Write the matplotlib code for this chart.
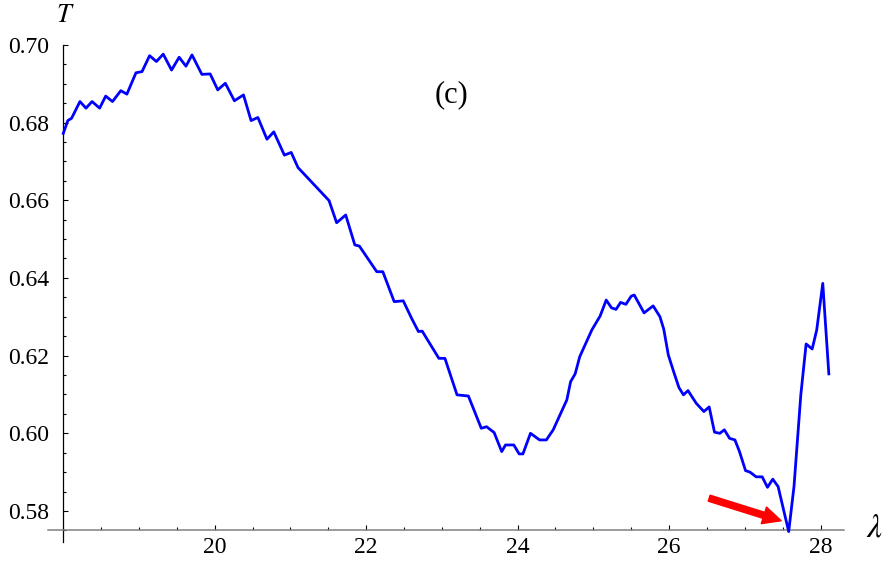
import matplotlib
matplotlib.use("Agg")
import matplotlib.pyplot as plt
from matplotlib.ticker import MultipleLocator, FormatStrFormatter

plt.rcParams['mathtext.fontset'] = 'stix'

# wavelength lambda
lam = [18.00, 18.06, 18.11, 18.22, 18.30, 18.38, 18.48, 18.56, 18.65, 18.76,
       18.84, 18.96, 19.04, 19.14, 19.23, 19.32, 19.43, 19.53, 19.62, 19.70,
       19.83, 19.94, 20.04, 20.14, 20.26, 20.38, 20.48, 20.57, 20.69, 20.78,
       20.92, 21.01, 21.10, 21.51, 21.61, 21.73, 21.85, 21.91, 22.14, 22.22,
       22.37, 22.49, 22.60, 22.69, 22.74, 22.96, 23.04, 23.20, 23.35, 23.52,
       23.59, 23.69, 23.79, 23.84, 23.95, 24.02, 24.07, 24.17, 24.29, 24.38,
       24.47, 24.65, 24.70, 24.76, 24.82, 24.98, 25.09, 25.17, 25.24, 25.30,
       25.36, 25.43, 25.50, 25.54, 25.67, 25.79, 25.88, 25.93, 25.99, 26.06,
       26.13, 26.19, 26.25, 26.36, 26.46, 26.53, 26.60, 26.67, 26.73, 26.80,
       26.87, 26.93, 27.01, 27.07, 27.15, 27.23, 27.30, 27.37, 27.44, 27.58,
       27.65, 27.74, 27.81, 27.89, 27.95, 28.03, 28.11]

# transmission T
T = [0.6772, 0.6805, 0.6811, 0.6854, 0.6837, 0.6854, 0.6837, 0.6868, 0.6854, 0.6882,
     0.6873, 0.6928, 0.6931, 0.6972, 0.6957, 0.6976, 0.6935, 0.6968, 0.6945, 0.6974,
     0.6924, 0.6925, 0.6884, 0.6901, 0.6856, 0.6871, 0.6805, 0.6813, 0.6757, 0.6776,
     0.6716, 0.6723, 0.6684, 0.6599, 0.6542, 0.6562, 0.6485, 0.6482, 0.6416, 0.6416,
     0.6339, 0.6341, 0.6296, 0.6262, 0.6263, 0.6193, 0.6193, 0.6099, 0.6096, 0.6013,
     0.6017, 0.6002, 0.5953, 0.5970, 0.5970, 0.5947, 0.5947, 0.6000, 0.5983, 0.5983,
     0.6009, 0.6086, 0.6133, 0.6153, 0.6197, 0.6266, 0.6302, 0.6343, 0.6323, 0.6319,
     0.6337, 0.6332, 0.6353, 0.6356, 0.6310, 0.6328, 0.6300, 0.6268, 0.6202, 0.6159,
     0.6118, 0.6099, 0.6110, 0.6077, 0.6056, 0.6068, 0.6003, 0.6000, 0.6009, 0.5987,
     0.5983, 0.5953, 0.5904, 0.5900, 0.5888, 0.5888, 0.5861, 0.5882, 0.5863, 0.5747,
     0.5863, 0.6099, 0.6230, 0.6217, 0.6266, 0.6386, 0.6153]

x_major = [20, 22, 24, 26, 28]
y_major = [0.58, 0.60, 0.62, 0.64, 0.66, 0.68, 0.70]

arrow_tail = (26.53, 0.5833)
arrow_head = (27.48, 0.5775)

fig = plt.figure(figsize=(8.93, 5.68), dpi=100)
ax = fig.add_axes([0.0539, 0.0456, 0.8912, 0.8755])

ax.plot(lam, T, color='#0000ff', lw=2.0, clip_on=False, zorder=3)

ax.set_xlim(17.8, 28.31)
ax.set_ylim(0.572, 0.70)

for s in ['top', 'right']:
    ax.spines[s].set_visible(False)
ax.spines['left'].set_position(('data', 18))
ax.spines['bottom'].set_position(('data', 0.575))
ax.spines['left'].set_color('black')
ax.spines['bottom'].set_color('#808080')
ax.spines['left'].set_linewidth(0.9)
ax.spines['bottom'].set_linewidth(1.1)

ax.set_xticks(x_major)
ax.set_yticks(y_major)
ax.xaxis.set_minor_locator(MultipleLocator(0.5))
ax.yaxis.set_minor_locator(MultipleLocator(0.005))
ax.yaxis.set_major_formatter(FormatStrFormatter('%.2f'))

ax.tick_params(axis='both', which='major', direction='in', length=3.8, width=0.8,
               color='black', labelsize=17)
ax.tick_params(axis='both', which='minor', direction='in', length=2.2, width=0.8,
               color='black')
ax.tick_params(axis='x', which='major', pad=5)
ax.tick_params(axis='y', which='major', pad=10)
for lbl in ax.get_xticklabels() + ax.get_yticklabels():
    lbl.set_fontfamily('Liberation Serif')

ax.annotate('', xy=arrow_head, xytext=arrow_tail,
            arrowprops=dict(arrowstyle='simple,head_length=1.3,head_width=1.25,tail_width=0.45',
                            color='red', shrinkA=0, shrinkB=0, mutation_scale=10),
            annotation_clip=False, zorder=4)

ax.text(23.13, 0.6871, '(c)', fontsize=22, family='Liberation Serif',
        ha='center', va='center')

fig.text(65 / 893, 1 - 15.5 / 568, r'$T$', fontsize=19, ha='center', va='center')
fig.text(874 / 893, 1 - 527 / 568, r'$\lambda$', fontsize=24, ha='center', va='center')

fig.savefig('out.png', dpi=100)
